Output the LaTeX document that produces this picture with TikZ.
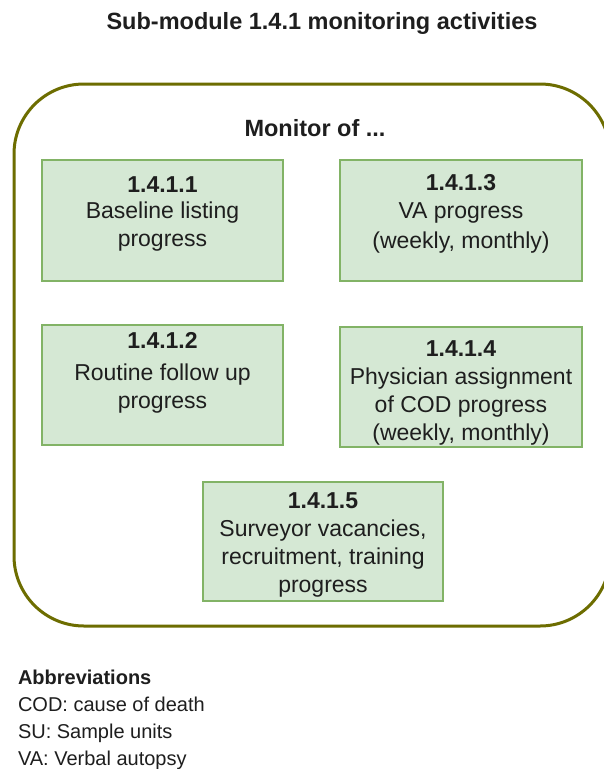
\documentclass[tikz,border=0pt]{standalone}
\usepackage{fontspec}
\setmainfont{Liberation Sans}
\begin{document}
\begin{tikzpicture}[x=1pt,y=-1pt,
  every node/.style={inner sep=0pt, outer sep=0pt, text=ink},
  frame/.style={draw=olive!85!black, line width=3pt, rounded corners=70pt, fill=none},
  task/.style={draw=taskline, fill=taskfill, line width=1.6pt},
  tasktext/.style={align=center, font=\fontsize{23}{28}\selectfont},
  heading/.style={font=\fontsize{23.5}{28}\selectfont\bfseries},
  abbr/.style={anchor=base west, font=\fontsize{20}{24}\selectfont}]
\definecolor{ink}{HTML}{1E1E1E}
\definecolor{taskfill}{HTML}{D5E8D4}
\definecolor{taskline}{HTML}{82B366}
\definecolor{olive}{HTML}{808000}

% page area
\useasboundingbox (0,0) rectangle (603,769);
\fill[white] (0,0) rectangle (603,769);

% title
\node[heading] (title) at (322,23) {Sub-module 1.4.1 monitoring activities};

% container
\node[frame, minimum width=596pt, minimum height=542pt] (frame) at (312,355) {};
\node[heading] (monitor) at (315,128) {Monitor of ...};

% activity boxes
\node[task, minimum width=241pt, minimum height=121pt] (a1) at (162.5,220.5) {};
\node[task, minimum width=242pt, minimum height=121pt] (a3) at (461,220.5) {};
\node[task, minimum width=241pt, minimum height=120pt] (a2) at (162.5,385) {};
\node[task, minimum width=242pt, minimum height=120pt] (a4) at (461,387) {};
\node[task, minimum width=240pt, minimum height=119pt] (a5) at (323,541.5) {};

% box captions, placed relative to their boxes
\node[tasktext] (a1t) at ([yshift=6.5pt]a1.center)
  {\textbf{1.4.1.1}\\[-2pt]Baseline listing\\progress};
\node[tasktext] (a3t) at ([yshift=6.5pt]a3.center)
  {\textbf{1.4.1.3}\\VA progress\\[2pt](weekly, monthly)};
\node[tasktext] (a2t) at ([yshift=12pt]a2.center)
  {\textbf{1.4.1.2}\\[4pt]Routine follow up\\progress};
\node[tasktext] (a4t) at ([yshift=-6pt]a4.center)
  {\textbf{1.4.1.4}\\Physician assignment\\of COD progress\\(weekly, monthly)};
\node[tasktext] (a5t) at ([yshift=-3.5pt]a5.center)
  {\textbf{1.4.1.5}\\Surveyor vacancies,\\recruitment, training\\progress};

% abbreviations
\node[abbr, font=\fontsize{20}{24}\selectfont\bfseries] (abbrhead) at (18,684) {Abbreviations};
\node[abbr] (abbrcod) at (18,711) {COD: cause of death};
\node[abbr] (abbrsu) at (18,738) {SU: Sample units};
\node[abbr] (abbrva) at (18,765) {VA: Verbal autopsy};
\end{tikzpicture}
\end{document}
